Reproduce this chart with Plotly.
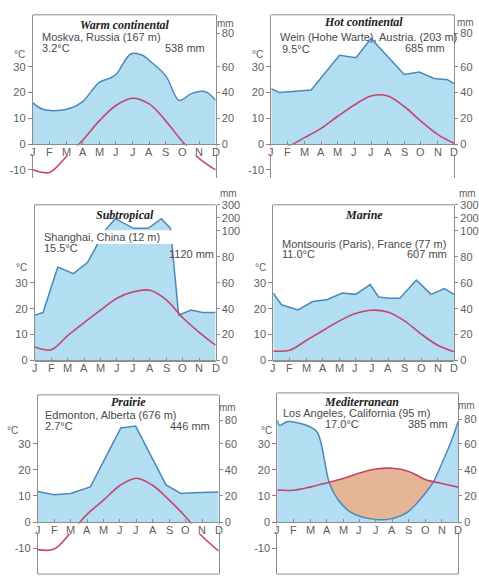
import plotly.graph_objects as go

W, H = 479, 583

# ---------------- data ----------------
MONTHS = ["J", "F", "M", "A", "M", "J", "J", "A", "S", "O", "N", "D"]
MONTH_POS = list(range(12))

# monthly mean temperature (deg C)
moskva_temp = [-10, -11, -5, 1.5, 9, 15, 17.8, 15.6, 9, 1, -5.5, -10]
wien_temp = [-1.5, -0.8, 2.5, 6.1, 10.8, 15.2, 18.7, 18.7, 14.6, 8.9, 3.8, 0.3]
shanghai_temp = [5.2, 4.2, 9.6, 14.6, 19.4, 24.0, 26.5, 27.1, 23.4, 16.5, 10.9, 5.9]
paris_temp = [3.7, 4.0, 7.7, 11.5, 15.2, 18.1, 19.4, 18.6, 15.2, 10.2, 5.9, 3.4]
edmonton_temp = [-10.5, -10.3, -4.0, 3.0, 8.4, 14.0, 16.8, 14.0, 8.4, 2.0, -5.4, -11.0]
la_temp = [12.3, 12.2, 13.4, 15.0, 16.7, 18.8, 20.3, 20.6, 19.4, 16.3, 14.8, 13.4]

# precipitation (mm), read at month positions (0 = Jan ... 11 = Dec)
moskva_precip_month = [0, 0.6, 1.5, 2.3, 3.0, 4.0, 4.6, 5.0, 5.9, 6.6, 7.0, 8.0, 8.8, 9.5, 10.1, 10.5, 11]
moskva_precip = [32, 27, 26, 28, 33, 48, 51, 54, 70, 69, 65, 53, 34, 39, 41, 40, 34]

wien_precip_month = [0, 0.5, 2.4, 4.1, 5.1, 6.0, 8.0, 8.9, 9.8, 10.6, 11]
wien_precip = [43, 40, 42, 69, 67, 82, 54, 56, 51, 50, 47]

shanghai_precip_month = [0, 0.5, 1.4, 2.35, 3.2, 3.9, 4.3, 4.9, 6.0, 6.9, 7.7, 8.25, 8.75, 9.5, 10.2, 11]
shanghai_precip = [35, 37, 72, 67, 75.5, 92, 107, 193, 119, 119, 193, 119, 35, 39, 37, 37]

paris_precip_month = [0, 0.5, 1.5, 2.4, 3.3, 4.2, 5.0, 5.9, 6.4, 7.0, 7.7, 8.7, 9.6, 10.4, 11]
paris_precip = [52, 43, 39, 45.5, 47, 52, 51, 58.5, 49, 48, 48, 62, 51, 55.5, 51]

edmonton_precip_month = [0, 1.0, 2.0, 3.2, 5.05, 5.95, 7.8, 8.7, 9.4, 11]
edmonton_precip = [23.5, 21, 22, 27, 72, 73.5, 28.5, 22, 22.5, 23]

la_precip_month = [0, 0.15, 0.65, 2.35, 2.67, 2.87, 3.17, 3.68, 4.48, 5.7, 6.9, 7.9, 8.7, 9.5, 10.1, 10.6, 11]
la_precip = [78, 74, 77, 70, 60, 47.5, 30, 17.5, 7.5, 2.5, 2.5, 7.5, 17.5, 31, 47.5, 62.5, 77]

TEMP_TICKS_LOW = [-10, 0, 10, 20, 30]
TEMP_TICKS_POS = [0, 10, 20, 30]
TEMP_TICKS_DEEP = [-20, -10, 0, 10, 20, 30]
MM_TICKS = [0, 20, 40, 60, 80]
MM_TICKS_WET = [0, 20, 40, 60, 80, 100, 200, 300]

# ---------------- styles ----------------
BLUE_FILL = "#b3def2"
BLUE_LINE = "#4a88bb"
RED = "#c4456a"
TAN = "#e6b496"
FRAME = "#8c8c8c"
LABEL = "#5e5e5e"
SANS = "Liberation Sans, Arial, sans-serif"
SERIF = "Liberation Serif, Times New Roman, serif"


def mm_to_c(mm):
    # Walter-Lieth scale: 20 mm = 10 C, above 100 mm compressed 1/10
    return mm / 2 if mm <= 100 else 50 + (mm - 100) / 20


panels = [
    dict(title="Warm continental", station="Moskva, Russia (167 m)", mean="3.2°C", total="538 mm",
         temp=moskva_temp, pm=moskva_precip_month, pv=moskva_precip, spline=True,
         ttick=TEMP_TICKS_LOW, mmtick=MM_TICKS,
         left=33, right=217, top=9, zero=141, s=26.3, bottom=176, bottom_line=False,
         t_xy=(125, 19), st_xy=(40, 32), mean_xy=(40, 43), tot_xy=(208, 43),
         c_xy=(20, 50), mm_xy=(227, 18), mm80=28),
    dict(title="Hot continental", station="Wein (Hohe Warte), Austria. (203 m)", mean="9.5°C", total="685 mm",
         temp=wien_temp, pm=wien_precip_month, pv=wien_precip, spline=False,
         ttick=TEMP_TICKS_LOW, mmtick=MM_TICKS,
         left=273, right=457, top=9, zero=141, s=26.3, bottom=176, bottom_line=False,
         t_xy=(366, 16), st_xy=(280, 32), mean_xy=(282, 44), tot_xy=(450, 43),
         c_xy=(259, 50), mm_xy=(468, 17), mm80=28),
    dict(title="Subtropical", station="Shanghai, China (12 m)", mean="15.5°C", total="1120 mm",
         temp=shanghai_temp, pm=shanghai_precip_month, pv=shanghai_precip, spline=False,
         ttick=TEMP_TICKS_POS, mmtick=MM_TICKS_WET,
         left=35, right=217, top=203, zero=362, s=26.5, bottom=362, bottom_line=True,
         t_xy=(126, 213), st_xy=(42, 236), mean_xy=(42, 247), tot_xy=(217, 253),
         c_xy=(22, 267), mm_xy=(230, 191), mm80=None, strip=(36, 175, 229, 243)),
    dict(title="Marine", station="Montsouris (Paris), France (77 m)", mean="11.0°C", total="607 mm",
         temp=paris_temp, pm=paris_precip_month, pv=paris_precip, spline=False,
         ttick=TEMP_TICKS_POS, mmtick=MM_TICKS_WET,
         left=275, right=457, top=203, zero=362, s=26.5, bottom=362, bottom_line=True,
         t_xy=(366, 213), st_xy=(282, 243), mean_xy=(282, 253), tot_xy=(452, 253),
         c_xy=(262, 267), mm_xy=(470, 191), mm80=None),
    dict(title="Prairie", station="Edmonton, Alberta (676 m)", mean="2.7°C", total="446 mm",
         temp=edmonton_temp, pm=edmonton_precip_month, pv=edmonton_precip, spline=False,
         ttick=TEMP_TICKS_DEEP, mmtick=MM_TICKS,
         left=38, right=220, top=397, zero=527, s=26.7, bottom=580, bottom_line=True,
         t_xy=(129, 404), st_xy=(43, 418), mean_xy=(43, 429), tot_xy=(213, 429),
         c_xy=(13, 433), mm_xy=(229, 410), mm80=423),
    dict(title="Mediterranean", station="Los Angeles, California (95 m)", mean="17.0°C", total="385 mm",
         temp=la_temp, pm=la_precip_month, pv=la_precip, spline=True, dry=True,
         ttick=TEMP_TICKS_DEEP, mmtick=MM_TICKS,
         left=279, right=461, top=395, zero=527, s=26.7, bottom=580, bottom_line=True,
         t_xy=(364, 404), st_xy=(283, 416), mean_xy=(325, 427), tot_xy=(453, 427),
         c_xy=(268, 433), mm_xy=(469, 408), mm80=422),
]


def px_x(px):
    return px / W


def px_y(py):
    return 1 - py / H


fig = go.Figure()
layout = dict(width=W, height=H, margin=dict(l=0, r=0, t=0, b=0),
              paper_bgcolor="white", plot_bgcolor="white", showlegend=False)
shapes = []
annotations = []

for i, p in enumerate(panels, start=1):
    xa, ya, yr = f"x{i}", f"y{i}", f"y{i + 6}"
    s = p["s"]
    ymax = (p["zero"] - p["top"]) / s * 10
    ymin = -(p["bottom"] - p["zero"]) / s * 10

    layout[f"xaxis{i}"] = dict(domain=[px_x(p["left"]), px_x(p["right"])], range=[0, 11],
                               anchor="free", position=px_y(p["zero"]),
                               showline=True, linecolor=FRAME, linewidth=1,
                               ticks="inside", ticklen=3, tickcolor=FRAME,
                               tickvals=MONTH_POS, showticklabels=False,
                               showgrid=False, zeroline=False, fixedrange=True)
    layout[f"yaxis{i}"] = dict(domain=[px_y(p["bottom"]), px_y(p["top"])], range=[ymin, ymax],
                               anchor=xa, showline=True, linecolor=FRAME, linewidth=1,
                               ticks="outside", ticklen=4, tickcolor="#d4607a",
                               tickvals=p["ttick"], ticktext=[str(v) for v in p["ttick"]],
                               tickfont=dict(family=SANS, size=11, color=LABEL),
                               showgrid=False, zeroline=False, fixedrange=True)
    mm_pos = []
    for v in p["mmtick"]:
        if v == 80 and p["mm80"] is not None:
            mm_pos.append((p["zero"] - p["mm80"]) / s * 10)
        else:
            mm_pos.append(mm_to_c(v))
    layout[f"yaxis{i + 6}"] = dict(overlaying=ya, side="right", anchor=xa, range=[ymin, ymax],
                                   showline=True, linecolor=FRAME, linewidth=1,
                                   ticks="outside", ticklen=3, tickcolor=FRAME,
                                   tickvals=mm_pos, ticktext=[str(v) for v in p["mmtick"]],
                                   tickfont=dict(family=SANS, size=11, color=LABEL),
                                   showgrid=False, zeroline=False, fixedrange=True)
    # keep right axis alive
    fig.add_trace(go.Scatter(x=[None], y=[None], xaxis=xa, yaxis=yr, hoverinfo="skip"))

    shape_kind = "spline" if p["spline"] else "linear"
    if p.get("dry"):
        fig.add_trace(go.Scatter(x=MONTH_POS, y=p["temp"], mode="lines", fill="tozeroy",
                                 fillcolor=TAN, line=dict(width=0, shape="spline"),
                                 xaxis=xa, yaxis=ya, hoverinfo="skip"))
    fig.add_trace(go.Scatter(x=p["pm"], y=[mm_to_c(v) for v in p["pv"]], mode="lines",
                             fill="tozeroy", fillcolor=BLUE_FILL,
                             line=dict(color=BLUE_LINE, width=1.5, shape=shape_kind),
                             xaxis=xa, yaxis=ya))
    fig.add_trace(go.Scatter(x=MONTH_POS, y=p["temp"], mode="lines",
                             line=dict(color=RED, width=1.6, shape="spline"),
                             xaxis=xa, yaxis=ya))

    # frame top / bottom
    shapes.append(dict(type="line", xref="paper", yref="paper",
                       x0=px_x(p["left"]), x1=px_x(p["right"]),
                       y0=px_y(p["top"]), y1=px_y(p["top"]),
                       line=dict(color=FRAME, width=1)))
    if p["bottom_line"]:
        shapes.append(dict(type="line", xref="paper", yref="paper",
                           x0=px_x(p["left"]), x1=px_x(p["right"]),
                           y0=px_y(p["bottom"]), y1=px_y(p["bottom"]),
                           line=dict(color=FRAME, width=1)))
    # white band behind month letters (hides the temperature curve there)
    if ymin < 0:
        shapes.append(dict(type="rect", xref="paper", yref="paper", layer="above",
                           x0=px_x(p["left"] - 1), x1=px_x(p["right"] + 1),
                           y0=px_y(p["zero"] + 1.5), y1=px_y(p["zero"] + 12),
                           fillcolor="white", line=dict(width=0)))
    if p.get("strip"):
        x0, x1, y0, y1 = p["strip"]
        shapes.append(dict(type="rect", xref="paper", yref="paper", layer="above",
                           x0=px_x(x0), x1=px_x(x1), y0=px_y(y0), y1=px_y(y1),
                           fillcolor="white", line=dict(width=0)))

    # month letters
    for m, lab in zip(MONTH_POS, MONTHS):
        annotations.append(dict(x=m, xref=xa, y=px_y(p["zero"] + 8), yref="paper",
                                text=lab, showarrow=False, xanchor="center", yanchor="middle",
                                font=dict(family=SANS, size=11, color=LABEL)))
    # texts
    annotations.append(dict(x=px_x(p["t_xy"][0]), y=px_y(p["t_xy"][1]), xref="paper", yref="paper",
                            text=f"<b><i>{p['title']}</i></b>", showarrow=False,
                            xanchor="center", yanchor="middle",
                            font=dict(family=SERIF, size=12, color="#222222")))
    annotations.append(dict(x=px_x(p["st_xy"][0]), y=px_y(p["st_xy"][1]), xref="paper", yref="paper",
                            text=p["station"], showarrow=False, xanchor="left", yanchor="middle",
                            font=dict(family=SANS, size=11, color="#4a4a4a")))
    annotations.append(dict(x=px_x(p["mean_xy"][0]), y=px_y(p["mean_xy"][1]), xref="paper", yref="paper",
                            text=p["mean"], showarrow=False, xanchor="left", yanchor="middle",
                            font=dict(family=SANS, size=11, color="#4a4a4a")))
    annotations.append(dict(x=px_x(p["tot_xy"][0]), y=px_y(p["tot_xy"][1]), xref="paper", yref="paper",
                            text=p["total"], showarrow=False, xanchor="right", yanchor="middle",
                            font=dict(family=SANS, size=11, color="#4a4a4a")))
    annotations.append(dict(x=px_x(p["c_xy"][0]), y=px_y(p["c_xy"][1]), xref="paper", yref="paper",
                            text="°C", showarrow=False, xanchor="center", yanchor="middle",
                            font=dict(family=SANS, size=10, color=LABEL)))
    annotations.append(dict(x=px_x(p["mm_xy"][0]), y=px_y(p["mm_xy"][1]), xref="paper", yref="paper",
                            text="mm", showarrow=False, xanchor="center", yanchor="middle",
                            font=dict(family=SANS, size=10, color=LABEL)))

layout["shapes"] = shapes
layout["annotations"] = annotations
fig.update_layout(**layout)
fig.write_html("out.html", config={"displayModeBar": False},
               post_script="document.body.style.margin='0px';")
